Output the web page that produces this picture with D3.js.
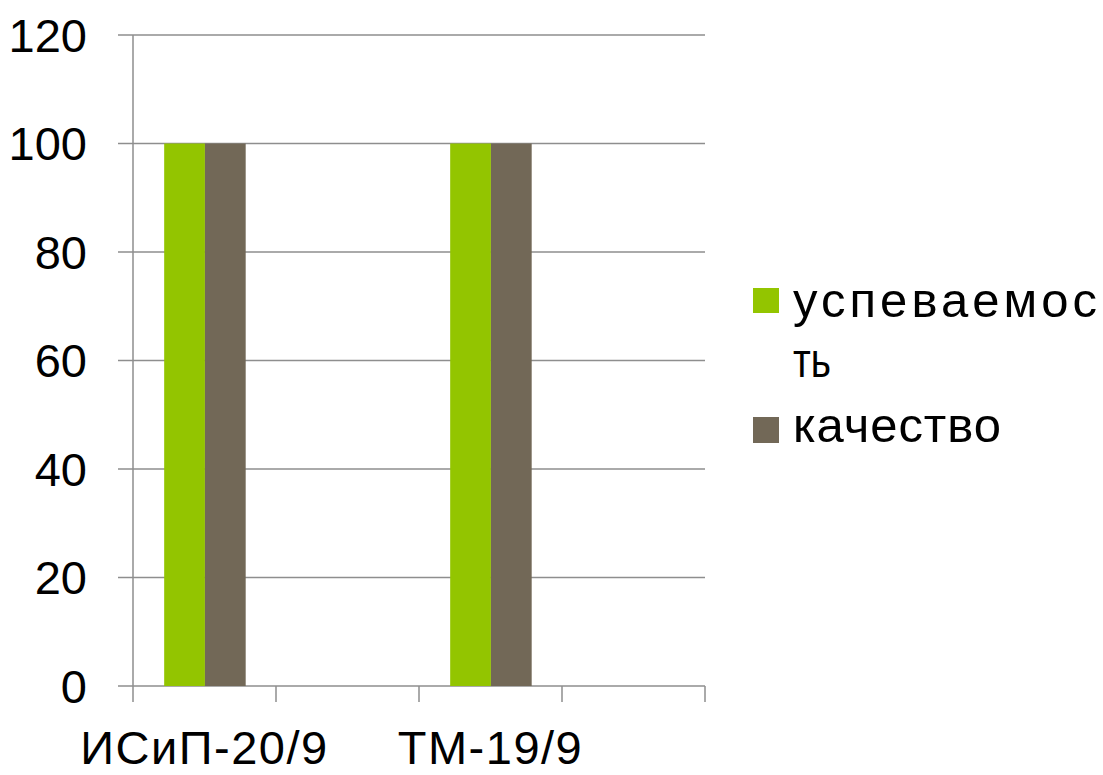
<!DOCTYPE html>
<html><head><meta charset="utf-8">
<script src="https://cdn.jsdelivr.net/npm/d3@7"></script>
<style>body{margin:0;background:#fff;} text{font-family:"Liberation Sans",Arial,sans-serif;fill:#000;}</style>
</head><body><svg id="c" width="1103" height="775"></svg>
<script>
const categories = ["ИСиП-20/9", "", "ТМ-19/9", ""];
const seriesNames = ["успеваемость", "качество"];
const uspevaemost = [100, null, 100, null];
const kachestvo = [100, null, 100, null];
const yTicks = [0, 20, 40, 60, 80, 100, 120];
const colors = ["#93c500", "#726857"];

(function () {
const svg = d3.select("#c");
const pLeft = 133, pRight = 705, pTop = 35, pBottom = 686;
const x = d3.scaleBand().domain(d3.range(categories.length)).range([pLeft, pRight]).padding(0);
const bw = x.bandwidth();
const xs = d3.scaleBand().domain([0, 1]).range([bw * 0.218, bw - bw * 0.212]).padding(0);
const y = d3.scaleLinear().domain([0, 120]).range([pBottom, pTop]);
const gridColor = "#8e8e8e";

svg.append("g").selectAll("line").data(yTicks).join("line")
  .attr("x1", pLeft - 15).attr("x2", pRight)
  .attr("y1", d => y(d)).attr("y2", d => y(d))
  .attr("stroke", gridColor).attr("stroke-width", 1.5);

svg.append("line").attr("x1", pLeft).attr("x2", pLeft).attr("y1", pTop).attr("y2", pBottom)
  .attr("stroke", gridColor).attr("stroke-width", 1.5);

const bounds = d3.range(categories.length + 1).map(i => pLeft + i * bw);
svg.append("g").selectAll("line").data(bounds).join("line")
  .attr("x1", d => d).attr("x2", d => d).attr("y1", pBottom).attr("y2", pBottom + 16)
  .attr("stroke", gridColor).attr("stroke-width", 1.5);

const series = [uspevaemost, kachestvo];
series.forEach((vals, si) => {
  svg.append("g").selectAll("rect").data(vals.map((v, i) => ({v, i})).filter(d => d.v != null)).join("rect")
    .attr("x", d => x(d.i) + xs(si)).attr("width", xs.bandwidth())
    .attr("y", d => y(d.v)).attr("height", d => y(0) - y(d.v))
    .attr("fill", colors[si]);
});

svg.append("g").selectAll("text").data(yTicks).join("text")
  .attr("x", 87).attr("y", d => y(d)).attr("dy", "0.36em").attr("text-anchor", "end")
  .style("font-size", "47px").text(d => d);

svg.append("g").selectAll("text").data(categories.map((c, i) => ({c, i}))).join("text")
  .attr("x", d => x(d.i) + bw / 2).attr("y", 764).attr("text-anchor", "middle")
  .style("font-size", "47px").style("letter-spacing", "1.5px").text(d => d.c);

const lg = svg.append("g");
lg.append("rect").attr("x", 753).attr("y", 288).attr("width", 26).attr("height", 25).attr("fill", colors[0]);
lg.append("text").attr("x", 793).attr("y", 317).style("font-size", "49px")
  .attr("textLength", 304).attr("lengthAdjust", "spacing").text("успеваемос");
lg.append("text").attr("x", 793).attr("y", 377).style("font-size", "49px")
  .attr("textLength", 38).attr("lengthAdjust", "spacingAndGlyphs").text("ть");
lg.append("rect").attr("x", 753).attr("y", 417).attr("width", 26).attr("height", 26).attr("fill", colors[1]);
lg.append("text").attr("x", 793).attr("y", 442).style("font-size", "49px")
  .attr("textLength", 208).attr("lengthAdjust", "spacing").text(seriesNames[1]);
})();
</script></body></html>
